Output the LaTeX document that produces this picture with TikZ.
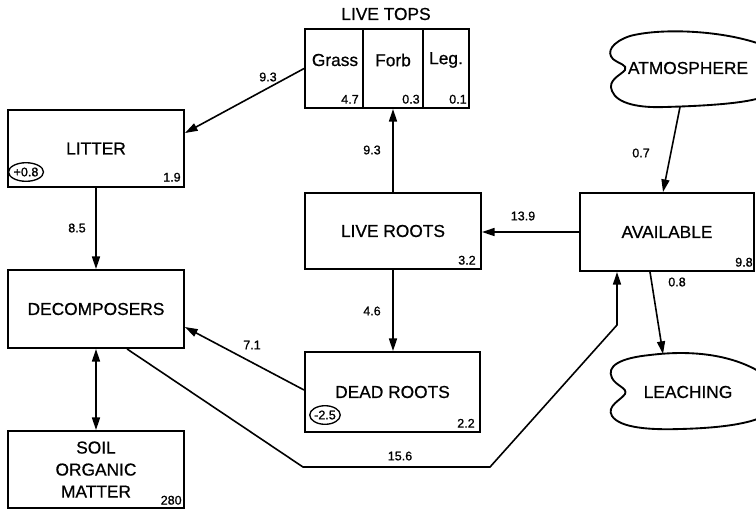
\documentclass[tikz,border=0pt]{standalone}
\usepackage{fontspec}
\setmainfont{Liberation Sans}[FakeBold=0.7]
\newfontfamily\numfont{Liberation Sans}[FakeBold=1.0]
\usetikzlibrary{arrows.meta,shapes.geometric,calc}
\begin{document}
\begin{tikzpicture}[x=0.75pt,y=-0.75pt,
  box/.style={draw,line width=1.4pt,rectangle,inner sep=0pt,font=\fontsize{13}{16.5}\selectfont,align=center},
  cell/.style={draw,line width=1.4pt,rectangle,inner sep=0pt,minimum height=59.25pt},
  txt/.style={inner sep=0pt,font=\fontsize{13}{16.5}\selectfont},
  val/.style={inner sep=0pt,font=\numfont\fontsize{9.4}{11}\selectfont},
  circ/.style={draw,ellipse,line width=1pt,inner xsep=0pt,inner ysep=1.6pt,font=\numfont\fontsize{9.4}{11}\selectfont},
  arr/.style={line width=1.2pt,-{Triangle[length=9.5pt,width=6pt]}},
  darr/.style={line width=1.2pt,{Triangle[length=9.5pt,width=6pt]}-{Triangle[length=9.5pt,width=6pt]}},
  cloudline/.style={line width=1.4pt}]
\clip (0,0) rectangle (756,512);
\fill[white] (0,0) rectangle (756,512);

% boxes
\node[box,minimum width=132pt,minimum height=57.75pt] (litter) at (96,148.5) {LITTER};
\node[box,minimum width=132pt,minimum height=58.5pt] (decomp) at (96,309) {DECOMPOSERS};
\node[box,minimum width=132pt,minimum height=57.75pt] (soil) at (96,469.5) {SOIL\\ORGANIC\\MATTER};
\node[box,minimum width=132pt,minimum height=57pt] (liveroots) at (393,231) {LIVE ROOTS};
\node[box,minimum width=131.25pt,minimum height=60pt] (deadroots) at (392.5,392) {DEAD ROOTS};
\node[box,minimum width=130.5pt,minimum height=58.5pt] (available) at (667,232) {AVAILABLE};

% live tops
\node[cell,minimum width=43.5pt] (grass) at (334,68.5) {};
\node[cell,minimum width=45pt] (forb) at (393,68.5) {};
\node[cell,minimum width=34.5pt] (leg) at (446,68.5) {};
\node[txt] (tops) at (386,14) {LIVE TOPS};
\node[txt] (grasst) at (335,60) {Grass};
\node[txt] (forbt) at (393,60) {Forb};
\node[txt] (legt) at (446,60) {Leg.};
\node[val,anchor=south east] (grassv) at ([shift={(-5,-5)}]grass.south east) {4.7};
\node[val,anchor=south east] (forbv) at ([shift={(-4,-5)}]forb.south east) {0.3};
\node[val,anchor=south east] (legv) at ([shift={(-3,-5)}]leg.south east) {0.1};

% stock values
\node[val,anchor=south east] (litterv) at ([shift={(-4,-6)}]litter.south east) {1.9};
\node[val,anchor=south east] (soilv) at ([shift={(-3,-4)}]soil.south east) {280};
\node[val,anchor=south east] (liverootsv) at ([shift={(-6,-5)}]liveroots.south east) {3.2};
\node[val,anchor=south east] (deadrootsv) at ([shift={(-6,-5)}]deadroots.south east) {2.2};
\node[val,anchor=south east] (availablev) at ([shift={(-2,-5)}]available.south east) {9.8};
\node[circ] (litterc) at (26,172) {+0.8};
\node[circ] (deadc) at (325,415) {-2.5};

% clouds
\draw[cloudline] (760,44) .. controls (720,30) and (660,28) .. (630,36)
  .. controls (612,42) and (606,52) .. (613,59)
  .. controls (619,64) and (628,65) .. (625,70)
  .. controls (621,75) and (607,80) .. (612,91)
  .. controls (617,104) and (640,108) .. (665,107)
  .. controls (700,106) and (740,104) .. (760,98);
\node[txt] (atmo) at (688,68) {ATMOSPHERE};
\coordinate (atmob) at (680,107);

\draw[cloudline] (760,372) .. controls (730,354) and (690,350) .. (650,355)
  .. controls (620,358) and (606,366) .. (612,378)
  .. controls (616,386) and (628,388) .. (625,394)
  .. controls (621,400) and (606,406) .. (612,416)
  .. controls (620,428) and (650,430) .. (680,429)
  .. controls (720,428) and (745,424) .. (760,418);
\node[txt] (leach) at (688,392) {LEACHING};
\coordinate (leacht) at (663,354);

% flows
\draw[arr] (grass.west) -- ([yshift=11.6pt]litter.east);
\node[val] (f1) at (268,77) {9.3};
\draw[arr] (liveroots.north) -- (liveroots.north |- forb.south);
\node[val] (f2) at (372,150) {9.3};
\draw[arr] (litter.south) -- (decomp.north);
\node[val] (f3) at (77,228) {8.5};
\draw[arr] (liveroots.south) -- (liveroots.south |- deadroots.north);
\node[val] (f4) at (372,311) {4.6};
\draw[arr] (available.west) -- (available.west -| liveroots.east);
\node[val] (f5) at (523,216) {13.9};
\draw[arr] (atmob) -- ([xshift=-3pt]available.north);
\node[val] (f6) at (641,153) {0.7};
\draw[arr] ([xshift=-12.75pt]available.south) -- (leacht);
\node[val] (f7) at (677,282) {0.8};
\draw[arr] ([yshift=1.5pt]deadroots.west) -- ([yshift=-13.5pt]decomp.east);
\node[val] (f8) at (252,345) {7.1};
\draw[darr] (decomp.south) -- (soil.north);
\coordinate (b1) at (303,467);
\coordinate (b2) at (490,467);
\coordinate (b3) at (617,325);
\draw[arr] ([xshift=23.25pt]decomp.south) -- (b1) -- (b2) -- (b3) -- (b3 |- available.south);
\node[val] (f9) at (400,456) {15.6};
\end{tikzpicture}
\end{document}
